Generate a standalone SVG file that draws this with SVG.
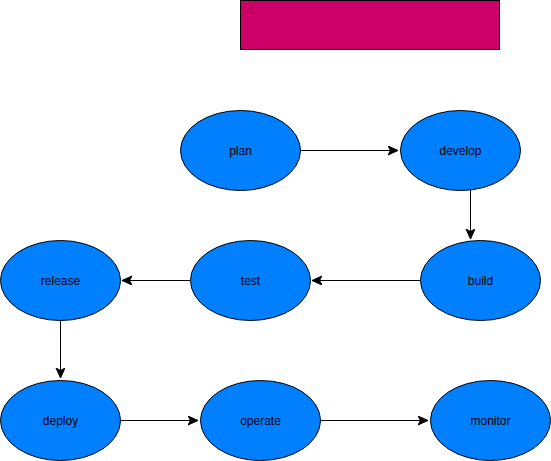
<svg xmlns="http://www.w3.org/2000/svg" width="551" height="461" viewBox="0 0 551 461">
<style>
.n ellipse{fill:#007FFF;stroke:#000;stroke-width:1}
.n text{font-family:"Liberation Sans",Arial,sans-serif;font-size:12px;fill:#000;text-anchor:middle;dominant-baseline:central}
.c path{fill:none;stroke:#000;stroke-width:1;marker-end:url(#a)}
</style>
<defs>
<marker id="a" markerUnits="userSpaceOnUse" markerWidth="12" markerHeight="10" refX="10" refY="4.5" orient="auto">
<path d="M0,0 L10,4.5 L0,9 L2.5,4.5 Z" fill="#000" stroke="#000" stroke-width="1"/>
</marker>
</defs>
<rect id="banner" x="240.5" y="0.5" width="259" height="49" fill="#CC0066" stroke="#000" stroke-width="1"/>
<g class="c" id="connectors">
<path d="M300,150.5 L398,150.5"/>
<path d="M470.5,189.5 L470.5,239"/>
<path d="M420,280.5 L312,280.5"/>
<path d="M190,280.5 L122,280.5"/>
<path d="M60.5,320 L60.5,378"/>
<path d="M120,420.5 L198,420.5"/>
<path d="M320,420.5 L428,420.5"/>
</g>
<g class="n" id="plan"><ellipse cx="240.5" cy="150.5" rx="60" ry="40"/><text x="240.5" y="151">plan</text></g>
<g class="n" id="develop"><ellipse cx="460.5" cy="150.5" rx="60" ry="40"/><text x="460.5" y="151">develop</text></g>
<g class="n" id="build"><ellipse cx="480.5" cy="280.5" rx="60" ry="40"/><text x="480.5" y="281">build</text></g>
<g class="n" id="test"><ellipse cx="250.5" cy="280.5" rx="60" ry="40"/><text x="250.5" y="281">test</text></g>
<g class="n" id="release"><ellipse cx="60.5" cy="280.5" rx="60" ry="40"/><text x="60.5" y="281">release</text></g>
<g class="n" id="deploy"><ellipse cx="60.5" cy="420.5" rx="60" ry="40"/><text x="60.5" y="421">deploy</text></g>
<g class="n" id="operate"><ellipse cx="260.5" cy="420.5" rx="60" ry="40"/><text x="260.5" y="421">operate</text></g>
<g class="n" id="monitor"><ellipse cx="490.5" cy="420.5" rx="60" ry="40"/><text x="490.5" y="421">monitor</text></g>
</svg>
